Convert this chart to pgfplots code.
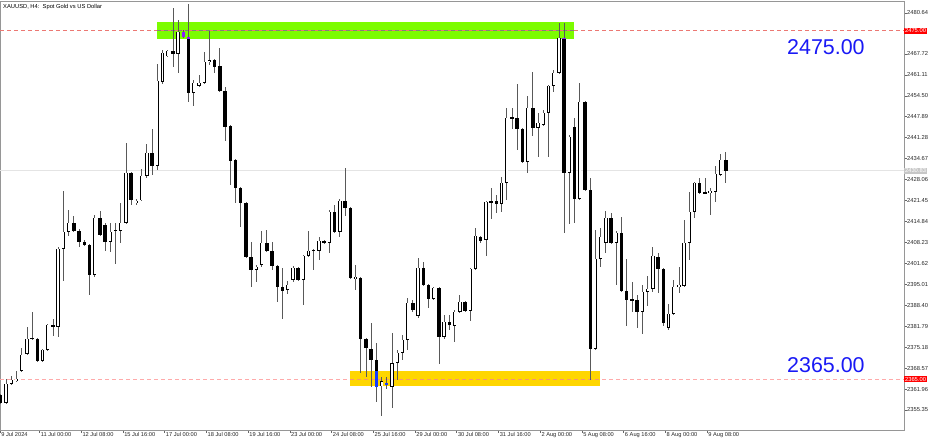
\documentclass[border=0pt]{standalone}
\usepackage{fontspec}
\setmainfont{Liberation Sans}
\usepackage{pgfplots}
\usepackage{pgfplotstable}
\pgfplotsset{compat=1.18}

\definecolor{zonegreen}{RGB}{124,252,0}
\definecolor{zonegold}{RGB}{255,214,0}
\definecolor{lvlsalmon}{RGB}{236,120,115}
\definecolor{lvlpink}{RGB}{255,170,170}
\definecolor{lvlgrey}{RGB}{130,130,120}
\definecolor{lvlorange}{RGB}{245,150,110}
\definecolor{bidgrey}{RGB}{228,228,228}
\definecolor{hlpurple}{RGB}{140,30,255}
\definecolor{hlblue}{RGB}{20,60,255}
\definecolor{txtblue}{RGB}{25,25,245}
\definecolor{framegrey}{RGB}{150,150,150}

% XAUUSD H4 candles: bar index, open, high, low, close
\pgfplotstableread{
i O H L C
0 2360.18 2360.49 2357.34 2357.65
1 2357.65 2365.23 2357.34 2363.65
2 2363.65 2366.17 2363.33 2364.91
3 2364.60 2367.75 2364.28 2365.23
4 2367.75 2375.01 2367.44 2372.80
5 2373.12 2381.64 2372.80 2377.85
6 2377.85 2386.37 2377.54 2378.17
7 2377.85 2378.17 2370.59 2370.91
8 2370.91 2374.70 2370.59 2374.38
9 2374.38 2382.59 2374.06 2382.27
10 2382.27 2384.16 2378.80 2381.64
11 2381.64 2406.89 2378.48 2406.26
12 2406.26 2424.56 2396.16 2411.62
13 2411.62 2418.56 2410.36 2414.46
14 2414.46 2416.67 2411.62 2411.94
15 2411.94 2412.57 2406.89 2408.47
16 2408.47 2409.10 2407.20 2407.52
17 2407.52 2407.83 2391.74 2398.05
18 2398.05 2416.99 2397.42 2416.04
19 2416.04 2418.25 2410.36 2410.67
20 2413.83 2414.46 2405.63 2408.47
21 2408.47 2414.46 2405.31 2411.62
22 2411.94 2414.46 2401.52 2412.25
23 2411.94 2420.77 2408.15 2414.46
24 2414.46 2439.71 2414.14 2430.24
25 2430.24 2430.56 2420.14 2421.72
26 2420.77 2422.04 2420.14 2421.40
27 2421.50 2431.51 2421.20 2429.30
28 2429.30 2439.39 2428.67 2436.55
29 2436.55 2444.12 2429.61 2432.45
30 2432.45 2464.64 2431.19 2459.28
31 2458.96 2469.06 2458.33 2468.11
32 2466.95 2469.06 2466.85 2468.74
33 2468.74 2482.32 2463.70 2467.80
34 2467.80 2478.53 2461.80 2474.74
35 2474.74 2475.37 2472.85 2473.16
36 2473.16 2483.58 2452.65 2455.49
37 2455.49 2459.59 2451.39 2458.65
38 2457.70 2461.17 2457.38 2458.65
39 2458.65 2468.43 2458.33 2465.27
40 2465.05 2475.06 2464.33 2465.81
41 2465.90 2466.22 2461.80 2463.70
42 2464.01 2469.69 2455.80 2456.12
43 2456.12 2457.38 2440.34 2444.76
44 2445.07 2445.39 2426.45 2434.03
45 2434.34 2434.66 2420.77 2425.51
46 2425.51 2425.82 2413.20 2420.77
47 2420.77 2421.09 2403.42 2403.73
48 2403.73 2408.47 2394.26 2399.62
49 2399.62 2401.20 2395.84 2400.57
50 2401.20 2411.94 2400.57 2408.15
51 2408.15 2412.25 2405.31 2405.63
52 2405.63 2408.47 2399.62 2400.89
53 2400.89 2401.20 2389.53 2394.26
54 2394.26 2400.26 2384.16 2393.00
55 2393.32 2396.16 2392.05 2394.89
56 2396.47 2400.89 2395.84 2400.26
57 2400.26 2400.57 2396.16 2396.47
58 2396.47 2404.36 2388.58 2404.05
59 2404.05 2411.94 2403.73 2405.63
60 2405.63 2406.26 2399.62 2405.80
61 2405.63 2410.04 2402.78 2408.78
62 2408.78 2409.10 2407.83 2408.15
63 2408.15 2418.56 2404.99 2417.93
64 2417.93 2420.14 2411.30 2411.62
65 2411.62 2422.04 2410.04 2421.40
66 2421.40 2431.82 2416.67 2419.20
67 2419.20 2419.51 2396.79 2397.10
68 2396.79 2401.20 2393.32 2397.42
69 2397.10 2397.42 2367.12 2377.85
70 2377.85 2378.17 2365.86 2375.01
71 2374.70 2382.90 2362.70 2371.22
72 2371.22 2376.59 2357.97 2362.70
73 2362.79 2365.86 2353.55 2364.38
74 2363.33 2365.86 2362.07 2363.65
75 2362.70 2379.75 2356.07 2370.27
76 2370.27 2374.33 2364.91 2373.43
77 2373.43 2379.11 2371.22 2377.54
78 2377.54 2390.79 2374.38 2389.21
79 2389.21 2390.16 2386.37 2387.00
80 2385.11 2403.42 2384.48 2400.26
81 2400.26 2402.15 2394.58 2394.89
82 2394.89 2395.21 2387.63 2390.48
83 2390.48 2394.26 2390.16 2393.95
84 2393.95 2394.26 2369.96 2378.48
85 2378.48 2385.42 2377.85 2383.21
86 2383.21 2385.42 2380.69 2382.27
87 2381.96 2387.00 2376.91 2386.37
88 2386.37 2391.74 2386.05 2389.53
89 2389.53 2389.85 2386.37 2386.69
90 2386.69 2400.26 2383.53 2399.94
91 2399.94 2412.88 2399.62 2410.36
92 2410.04 2410.36 2408.15 2408.78
93 2409.10 2421.40 2404.05 2421.09
94 2421.09 2425.51 2415.72 2421.20
95 2421.40 2423.30 2417.62 2420.46
96 2420.46 2428.98 2417.93 2427.09
97 2427.09 2450.76 2421.72 2447.60
98 2447.92 2450.76 2444.12 2447.28
99 2447.60 2458.33 2437.50 2444.12
100 2444.12 2444.44 2433.40 2433.71
101 2433.71 2454.54 2430.24 2450.76
102 2450.76 2462.12 2441.92 2444.44
103 2444.44 2449.18 2435.29 2446.02
104 2445.39 2450.12 2445.07 2449.18
105 2449.18 2458.01 2435.29 2457.70
106 2457.70 2462.75 2455.80 2461.80
107 2461.80 2477.58 2461.49 2472.85
108 2472.85 2477.58 2411.30 2430.24
109 2430.24 2442.24 2414.14 2441.60
110 2444.76 2447.60 2414.46 2422.04
111 2422.04 2458.65 2421.72 2452.65
112 2452.65 2452.96 2424.56 2424.88
113 2424.88 2428.67 2364.91 2374.70
114 2374.70 2412.25 2374.38 2403.10
115 2403.10 2412.88 2400.57 2410.04
116 2408.15 2418.25 2404.99 2416.04
117 2416.04 2417.62 2407.83 2408.15
118 2408.15 2411.94 2394.89 2411.30
119 2411.30 2416.35 2392.69 2393.00
120 2393.00 2403.10 2381.96 2390.16
121 2390.16 2395.84 2386.37 2390.00
122 2390.16 2391.74 2381.33 2386.37
123 2386.37 2394.89 2379.43 2392.69
124 2392.69 2397.73 2388.27 2393.63
125 2393.63 2406.89 2392.69 2404.05
126 2403.73 2404.99 2392.37 2399.94
127 2399.94 2400.26 2381.96 2382.90
128 2381.33 2388.90 2380.69 2385.74
129 2385.74 2396.47 2385.42 2394.26
130 2394.26 2400.57 2392.37 2394.89
131 2394.58 2415.41 2394.26 2408.15
132 2408.15 2424.25 2402.78 2417.93
133 2417.93 2427.40 2416.04 2427.09
134 2427.09 2428.67 2423.62 2423.93
135 2423.93 2428.67 2423.62 2424.05
136 2423.93 2425.51 2416.99 2424.56
137 2424.25 2432.45 2421.09 2429.93
138 2429.61 2436.24 2429.30 2434.34
139 2434.34 2436.87 2427.09 2430.83
}\candles

% parts of candle bodies painted by the zone indicator
\pgfplotstableread{
i lo hi
35 2473.16 2474.74
36 2472.53 2473.16
108 2472.53 2472.85
}\purplebits
\pgfplotstableread{
i lo hi
72 2362.70 2367.75
74 2363.20 2363.80
}\bluebits

% horizontal levels
\pgfplotstableread{
x y
-0.153 2475.00
173.16 2475.00
}\levelhigh
\pgfplotstableread{
x y
-0.153 2365.00
173.16 2365.00
}\levellow

\begin{document}
\begin{tikzpicture}
\useasboundingbox (0bp,0bp) rectangle (936bp,442bp);
\begin{axis}[
  at={(0bp,12bp)}, anchor=south west,
  scale only axis, width=904bp, height=429bp,
  xmin=-0.153, xmax=173.16, ymin=2349.03, ymax=2484.42,
  clip=false,
  axis line style={draw=framegrey, line width=0.7bp},
  tick align=outside,
  major tick length=2.5bp,
  tick style={draw=black!60, line width=0.5bp},
  xtick pos=bottom, ytick pos=right, yticklabel pos=right,
  scaled y ticks=false,
  xtick={-0.15,7.4,15.4,23.4,31.4,39.4,47.4,55.4,63.4,71.4,79.4,87.4,95.4,
    103.4,111.4,119.4,127.4,135.4},
  xticklabels={9 Jul 2024, 11 Jul 00:00, 12 Jul 08:00, 15 Jul 16:00,
    17 Jul 00:00, 18 Jul 08:00, 19 Jul 16:00, 23 Jul 00:00, 24 Jul 08:00,
    25 Jul 16:00, 29 Jul 00:00, 30 Jul 08:00, 31 Jul 16:00, 2 Aug 00:00,
    5 Aug 08:00, 6 Aug 16:00, 8 Aug 00:00, 9 Aug 08:00},
  xticklabel style={anchor=north west, inner sep=0pt, xshift=1.2bp,
    font=\fontsize{5.7}{6}\selectfont, text=black!85},
  ytick={2355.35,2361.96,2368.57,2375.18,2381.79,2388.40,2395.01,2401.62,
    2408.23,2414.84,2421.45,2428.06,2434.67,2441.28,2447.89,2454.50,
    2461.11,2467.72,2480.64},
  yticklabel={\pgfmathprintnumber[fixed,fixed zerofill,precision=2,
    1000 sep={},assume math mode=true]{\tick}},
  yticklabel style={anchor=west, inner sep=0pt, xshift=0.5bp,
    font=\fontsize{5.8}{6}\selectfont, text=black!85},
]
% support / resistance zones
\addplot[forget plot, fill=zonegreen, draw=none]
  coordinates {(30.0,2472.44) (109.9,2472.44) (109.9,2477.68) (30.0,2477.68)};
\addplot[forget plot, fill=zonegold, draw=none]
  coordinates {(66.95,2362.79) (114.88,2362.79) (114.88,2367.80) (66.95,2367.80)};

% bid line and level lines
\addplot[forget plot, draw=bidgrey, line width=0.8bp]
  coordinates {(-0.153,2430.83) (173.16,2430.83)};
\addplot[forget plot, draw=lvlsalmon, line width=1bp, dash pattern=on 4bp off 3bp]
  table {\levelhigh};
\addplot[forget plot, draw=lvlgrey, line width=1bp, dash pattern=on 4bp off 3bp]
  coordinates {(30.0,2475.00) (109.9,2475.00)};
\addplot[forget plot, draw=lvlpink, line width=1bp, dash pattern=on 4bp off 3bp]
  table {\levellow};
\addplot[forget plot, draw=lvlorange, line width=1bp, dash pattern=on 4bp off 3bp]
  coordinates {(66.95,2365.00) (114.88,2365.00)};

% wicks
\addplot[forget plot, draw=none, error bars/.cd, y dir=both, y explicit,
  error mark=none, error bar style={draw=black!65, line width=0.75bp}]
  table[x=i, y expr={(\thisrow{H}+\thisrow{L})/2},
        y error expr={(\thisrow{H}-\thisrow{L})/2}] {\candles};
% bodies (black outline / fill)
\addplot[forget plot, draw=none, error bars/.cd, y dir=both, y explicit,
  error mark=none, error bar style={draw=black, line width=3.4bp}]
  table[x=i, y expr={(\thisrow{O}+\thisrow{C})/2},
        y error expr={max(abs(\thisrow{C}-\thisrow{O})/2,0.16)}] {\candles};
% hollow inside of rising candles
\addplot[forget plot, draw=none, error bars/.cd, y dir=both, y explicit,
  error mark=none, error bar style={draw=white, line width=1.9bp}]
  table[x=i, y expr={(\thisrow{O}+\thisrow{C})/2},
        y error expr={(\thisrow{C}>\thisrow{O})*max(abs(\thisrow{C}-\thisrow{O})/2-0.24,0)}] {\candles};
% indicator colouring inside the zones
\addplot[forget plot, draw=none, error bars/.cd, y dir=both, y explicit,
  error mark=none, error bar style={draw=hlpurple, line width=3.4bp}]
  table[x=i, y expr={(\thisrow{lo}+\thisrow{hi})/2},
        y error expr={(\thisrow{hi}-\thisrow{lo})/2}] {\purplebits};
\addplot[forget plot, draw=none, error bars/.cd, y dir=both, y explicit,
  error mark=none, error bar style={draw=hlblue, line width=3.4bp}]
  table[x=i, y expr={(\thisrow{lo}+\thisrow{hi})/2},
        y error expr={(\thisrow{hi}-\thisrow{lo})/2}] {\bluebits};

% price tags on the right scale
\node[anchor=west, fill=red, text=white, inner sep=0.9bp,
  font=\fontsize{5.8}{6}\selectfont] at (axis cs:173.16,2475.00) {2475.00};
\node[anchor=west, fill=red, text=white, inner sep=0.9bp,
  font=\fontsize{5.8}{6}\selectfont] at (axis cs:173.16,2365.00) {2365.00};
\node[anchor=west, fill=black!22, text=white, inner sep=0.9bp,
  font=\fontsize{5.8}{6}\selectfont] at (axis cs:173.16,2430.83) {2430.83};
\end{axis}

\node[anchor=north west, inner sep=0pt, font=\fontsize{5.8}{7}\selectfont]
  at (3bp,437.5bp) {XAUUSD, H4:\ \ Spot Gold vs US Dollar};
\node[anchor=base west, inner sep=0pt, text=txtblue,
  font=\fontsize{21.5}{24}\selectfont] at (787bp,387.7bp) {2475.00};
\node[anchor=base west, inner sep=0pt, text=txtblue,
  font=\fontsize{21.5}{24}\selectfont] at (787bp,69.7bp) {2365.00};
\end{tikzpicture}
\end{document}
